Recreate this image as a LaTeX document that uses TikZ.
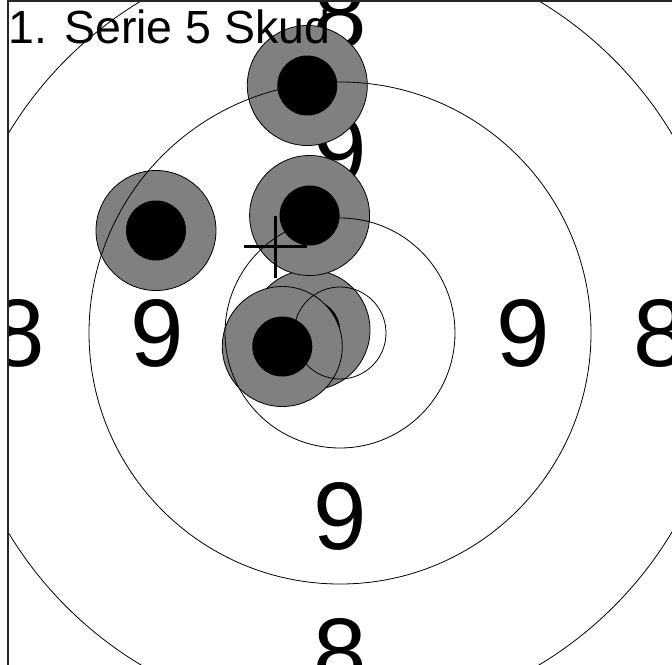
\documentclass[tikz,border=0pt]{standalone}
\usepackage{fontspec}
\setmainfont{Liberation Sans}
\begin{document}
\begin{tikzpicture}[x=1pt,y=-1pt,
  ring/.style={draw=black,line width=0.8pt},
  shotouter/.style={fill=gray,draw=black,line width=0.8pt},
  shotinner/.style={fill=black},
  lbl/.style={inner sep=0pt,font=\fontsize{96}{96}\selectfont},
  crossline/.style={line width=2.7pt,black},
  frame/.style={line width=1.4pt,black!85}]
\useasboundingbox (0,0) rectangle (672,664);
\coordinate (c) at (340,333);
\begin{scope}
\clip (8,1) rectangle (672,664);
% ring numbers
\node[lbl] (n9l) at (157,333) {9};
\node[lbl] (n9r) at (523,333) {9};
\node[lbl] (n9t) at (340,150) {9};
\node[lbl] (n9b) at (340,516) {9};
\node[lbl] (n8l) at (18,333) {8};
\node[lbl] (n8r) at (660,333) {8};
\node[lbl] (n8t) at (340,14) {8};
\node[lbl] (n8b) at (340,652) {8};
% shots
\coordinate (s5) at (310,330);
\coordinate (s4) at (282.3,346.5);
\coordinate (s1) at (156,230.5);
\coordinate (s3) at (309.6,215.5);
\coordinate (s2) at (307.3,85.5);
\foreach \s in {s5,s4,s1,s3,s2}{
  \draw[shotouter] (\s) circle[radius=60];
  \fill[shotinner] (\s) circle[radius=30];
}
% rings
\draw[ring] (c) circle[radius=46];
\draw[ring] (c) circle[radius=115];
\draw[ring] (c) circle[radius=251];
\draw[ring] (c) circle[radius=387];
\end{scope}
% aiming cross
\coordinate (k) at (275.5,246.5);
\draw[crossline] ([xshift=-31.5pt]k) -- ([xshift=31.5pt]k);
\draw[crossline] ([yshift=31pt]k) -- ([yshift=-31pt]k);
% title
\node[anchor=base west,inner sep=0pt,font=\fontsize{46.5}{46.5}\selectfont] (title) at (8,43.3) {1. Serie 5 Skud};
% frame
\draw[frame] (8,700) -- (8,1) -- (700,1);
\end{tikzpicture}
\end{document}
